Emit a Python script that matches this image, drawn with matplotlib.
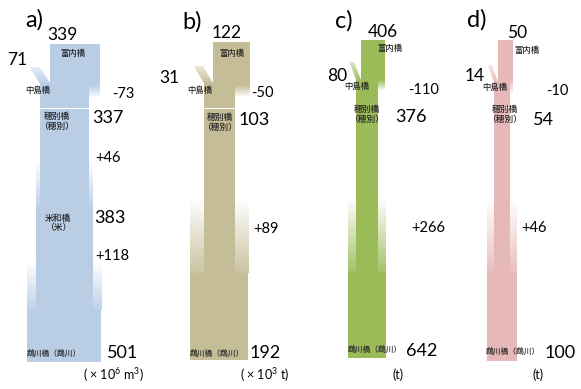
import numpy as np
import matplotlib.pyplot as plt
import matplotlib.colors as mcolors
from matplotlib.patches import Rectangle, Polygon

plt.rcParams['font.family'] = ['Lato', 'Noto Sans CJK JP', 'DejaVu Sans']
plt.rcParams['mathtext.fontset'] = 'custom'
plt.rcParams['mathtext.rm'] = 'Lato'
plt.rcParams['mathtext.it'] = 'Lato'
JP = ['Noto Sans CJK JP', 'DejaVu Sans']

#*********************** values at each station ***********************#
panel_tags = ['a)', 'b)', 'c)', 'd)']
tominai = [339, 122, 406, 50]        # 富内橋
nakajima = [71, 31, 80, 14]          # inflow at 中島橋
outflow = [-73, -50, -110, -10]      # loss between 中島橋 and 穂別橋
hobetsu = [337, 103, 376, 54]        # 穂別橋
gains = [[46, 118], [89], [266], [46]]
yonewa = 383                         # 米和橋 (panel a only)
mukawa = [501, 192, 642, 100]        # 鵡川橋
units = [r'( × 10$^{6}$ m$^{3}$)', r'( × 10$^{3}$ t)', '(t)', '(t)']
colors = ['#b9cde5', '#c4bd97', '#9bbb59', '#e6b9b8']

#*********************** layout (pixels) ***********************#
trunk_x = [50, 213, 361, 498]
px_per_unit = [0.1475, 0.30, 0.059, 0.30]
top_y = [44, 42, 40, 40]
slant_y = [(67, 83), (66, 83), (62, 80), (65, 82)]
slant_dx = [10, 10, 7, 6]
out_y = [(85, 98), (85, 97), (80, 91), (80, 95)]
seg_y = [108, 108, None, 107]
gain_y = [[(160, 207), (260, 310)], [(198, 273)], [(197, 272)], [(198, 272)]]
bottom_y = [362, 360, 358, 361]

tag_xy = [(34, 20), (192, 22), (344, 21), (477, 20)]
top_xy = [(63, 35), (227, 33), (383, 32), (517, 33)]
in_xy = [(17, 60), (169, 78), (337, 76), (475, 76)]
out_xy = [(123, 94), (262, 93), (424, 90), (557, 91)]
hob_xy = [(108, 118), (254, 120), (411, 117), (543, 120)]
gain_xy = [[(108, 158), (112, 256)], [(266, 229)], [(428, 228)], [(534, 228)]]
yon_xy = (110, 218)
muk_xy = [(123, 353), (265, 353), (422, 351), (560, 353)]
unit_xy = [(113, 375), (265, 375), (398, 375), (538, 375)]
tominai_lbl = [(73, 53), (232, 53), (390, 48), (527, 50)]
naka_lbl = [(38, 90), (200, 90), (357, 86), (495, 87)]
hob_lbl = [(57, 112), (220, 113), (367, 105), (505, 105)]
yon_lbl = (58, 223)
muk_lbl = [(54, 353), (217, 353), (375, 349), (513, 351)]


def grad_img(color, a0, a1):
    img = np.zeros((64, 1, 4))
    img[..., :3] = mcolors.to_rgb(color)
    img[:, 0, 3] = np.linspace(a0, a1, 64)
    return img


def grad_rect(ax, x0, x1, y0, y1, color, a0, a1, clip=None):
    im = ax.imshow(grad_img(color, a0, a1), extent=(x0, x1, y1, y0),
                   aspect='auto', interpolation='bilinear', origin='upper', zorder=2)
    if clip is not None:
        im.set_clip_path(clip)


def rect(ax, x0, x1, y0, y1, color):
    ax.add_patch(Rectangle((x0, y0), x1 - x0, y1 - y0, facecolor=color,
                           edgecolor='none', zorder=2))


fig = plt.figure(figsize=(5.81, 3.89), dpi=100)
ax = fig.add_axes([0, 0, 1, 1])

for i in range(4):
    s = px_per_unit[i]
    c = colors[i]
    xl = trunk_x[i]
    xr = xl + tominai[i] * s
    xo = xr + outflow[i] * s           # outflow eats the right edge
    xn = xl - nakajima[i] * s          # inflow widens the left edge
    ys = seg_y[i] if seg_y[i] is not None else 108
    gap = 1.2 if seg_y[i] is not None else 0

    # 富内橋 -> 中島橋
    rect(ax, xl, xo, top_y[i], ys, c)
    rect(ax, xo, xr, top_y[i], out_y[i][0], c)
    grad_rect(ax, xo, xr, out_y[i][0], out_y[i][1], c, 1.0, 0.0)
    rect(ax, xn, xl, slant_y[i][1], ys, c)
    sy0, sy1 = slant_y[i]
    d = slant_dx[i]
    poly = Polygon([(xn - d, sy0), (xl - d, sy0), (xl, sy1), (xn, sy1)],
                   closed=True, facecolor='none', edgecolor='none')
    ax.add_patch(poly)
    grad_rect(ax, xn - d, xl, sy0, sy1 + 0.5, c, 0.35, 1.0, clip=poly)

    # 穂別橋 -> 鵡川橋, widening with each gain
    left, right = xn, xo
    y = ys + gap
    for g, (g0, g1) in zip(gains[i], gain_y[i]):
        rect(ax, left, right, y, g1, c)
        half = g * s / 2
        grad_rect(ax, left - half, left, g0, g1, c, 0.0, 0.9)
        grad_rect(ax, right, right + half, g0, g1, c, 0.0, 0.9)
        left -= half
        right += half
        y = g1
    rect(ax, left, right, y, bottom_y[i], c)

    # numbers
    ax.text(*tag_xy[i], panel_tags[i], fontsize=17, ha='center', va='center')
    ax.text(*top_xy[i], str(tominai[i]), fontsize=12.5, ha='center', va='center')
    ax.text(*in_xy[i], str(nakajima[i]), fontsize=12.5, ha='center', va='center')
    ax.text(*out_xy[i], str(outflow[i]), fontsize=10.5, ha='center', va='center')
    ax.text(*hob_xy[i], str(hobetsu[i]), fontsize=13, ha='center', va='center')
    for g, xy in zip(gains[i], gain_xy[i]):
        ax.text(*xy, '+%d' % g, fontsize=10.5, ha='center', va='center')
    ax.text(*muk_xy[i], str(mukawa[i]), fontsize=13, ha='center', va='center')
    ax.text(*unit_xy[i], units[i], fontsize=9, ha='center', va='center')

    # station names
    ax.text(*tominai_lbl[i], '富内橋', fontsize=6, family=JP, weight='medium',
            ha='center', va='center', color='#262626')
    ax.text(*naka_lbl[i], '中島橋', fontsize=6, family=JP, weight='medium',
            ha='center', va='center', color='#262626')
    ax.text(hob_lbl[i][0], hob_lbl[i][1], '穂別橋\n（穂別）', fontsize=6.3, family=JP,
            weight='medium', ha='center', va='top', linespacing=1.1, color='#262626')
    ax.text(*muk_lbl[i], '鵡川橋（鵡川）', fontsize=5.6, family=JP, weight='medium',
            ha='center', va='center', color='#262626')

# 米和橋 only on panel a
ax.text(*yon_xy, str(yonewa), fontsize=13, ha='center', va='center')
ax.text(yon_lbl[0], yon_lbl[1], '米和橋\n（米）', fontsize=6.3, family=JP, weight='medium',
        ha='center', va='center', linespacing=1.1, color='#262626')

ax.set_xlim(0, 581)
ax.set_ylim(389, 0)
ax.axis('off')

fig.savefig('out.png', dpi=100)
